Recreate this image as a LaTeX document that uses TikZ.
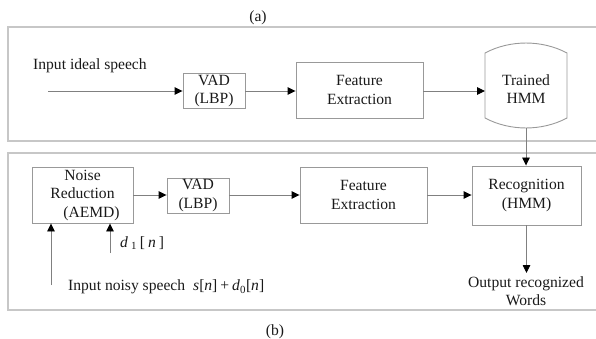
\documentclass[tikz,border=0pt]{standalone}
\usepackage{fontspec}
\setmainfont{Liberation Serif}
\usetikzlibrary{arrows.meta}
\begin{document}
\begin{tikzpicture}[x=1pt,y=-1pt,
  every node/.style={font=\fontsize{15.6}{18.5}\selectfont, text=black!90, inner sep=0pt},
  blk/.style={draw=black!40, line width=0.9pt, align=center},
  flow/.style={draw=black!50, line width=0.9pt, -{Triangle[length=8pt,width=7.5pt,color=black]}},
  panel/.style={draw=black!22, line width=1.4pt}]
\useasboundingbox (0,0) rectangle (596,339);

% panel frames (open on the right)
\draw[panel] (596,27) -- (8,27) -- (8,141) -- (596,141);
\draw[panel] (596,153) -- (8,153) -- (8,310) -- (596,310);
\node (capA) at (258,18) {(a)};
\node (capB) at (275,332) {(b)};

% (a) training chain
\node[anchor=west] (inAtxt) at (33,66) {Input ideal speech};
\coordinate (inA) at (48,91);
\node[blk, minimum width=62pt, minimum height=35pt] (vadA) at (214,91) {VAD\\(LBP)};
\node[blk, minimum width=127pt, minimum height=56pt] (featA) at (359.5,90) {Feature\\Extraction};
% storage drum with bulging top and bottom
\draw[draw=black!40, line width=0.9pt]
  (485,53) .. controls (510,39.7) and (542,39.7) .. (567,53) -- (567,118)
  .. controls (542,131.3) and (510,131.3) .. (485,118) -- cycle;
\node[align=center] (hmm) at (526,89) {Trained\\HMM};
\coordinate (hmmW) at (485,91);
\coordinate (hmmS) at (526,128);
\draw[flow] (inA) -- (vadA.west |- inA);
\draw[flow] (vadA.east) -- (vadA.east -| featA.west);
\draw[flow] (featA.east |- vadA.east) -- (hmmW);

% (b) recognition chain
\node[blk, minimum width=101pt, minimum height=56pt] (nr) at (82.5,195)
  {Noise\\Reduction\\\hspace*{18pt}(AEMD)};
\node[blk, minimum width=62pt, minimum height=35pt] (vadB) at (198,195.5) {VAD\\(LBP)};
\node[blk, minimum width=127pt, minimum height=56pt] (featB) at (363.5,195) {Feature\\Extraction};
\node[blk, minimum width=109pt, minimum height=59pt] (rec) at (526.5,195.5) {Recognition\\(HMM)};
\draw[flow] (nr.east |- featB.west) -- (vadB.west |- featB.west);
\draw[flow] (vadB.east |- featB.west) -- (featB.west);
\draw[flow] (featB.east) -- (featB.east -| rec.west);
\draw[flow] (hmmS) -- (hmmS |- rec.north);

\coordinate (inB) at (51,285);
\coordinate (dB) at (110,253);
\draw[flow] (inB) -- (inB |- nr.south);
\draw[flow] (dB) -- (dB |- nr.south);
\node[anchor=west] (dtxt) at (120,243)
  {\textit{d}\hspace{3pt}\textsubscript{1}\hspace{3pt}[\hspace{3pt}\textit{n}\hspace{3pt}]};
\node[anchor=west] (inBtxt) at (68,287)
  {Input noisy speech\hspace{8pt}\textit{s}[\textit{n}]\hspace{3pt}+\hspace{3pt}\textit{d}\textsubscript{0}[\textit{n}]};

\node[align=center] (out) at (526,291) {Output recognized\\Words};
\draw[flow] (rec.south) -- (rec.south |- 0,273);
\end{tikzpicture}
\end{document}
